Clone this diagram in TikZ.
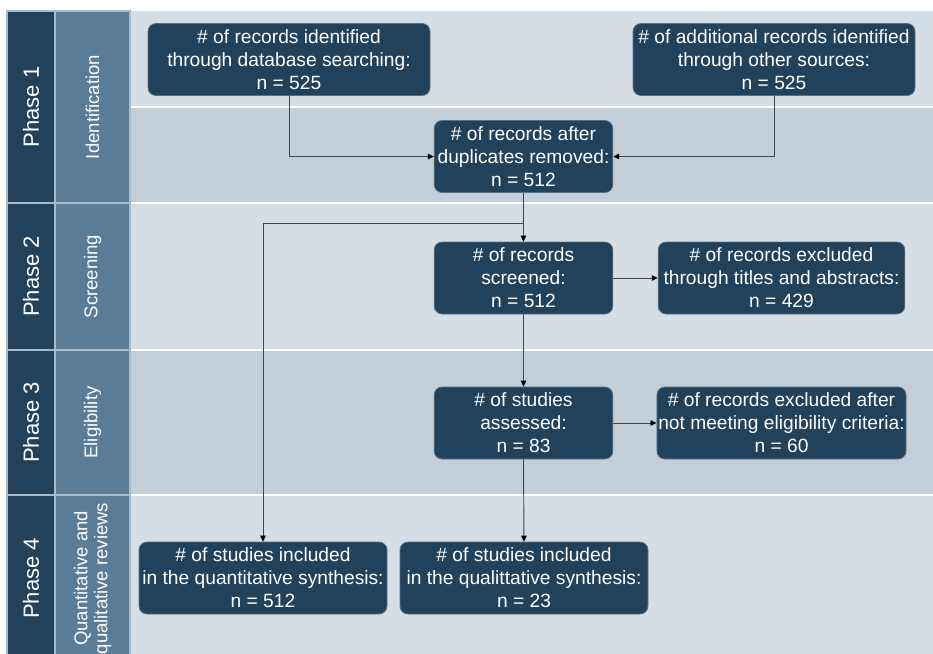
\documentclass[tikz,border=0pt]{standalone}
\usepackage{fontspec}
\setmainfont{Liberation Sans}
\usetikzlibrary{arrows.meta, calc, positioning}

\definecolor{navy}{HTML}{22425B}
\definecolor{steel}{HTML}{5B7C96}
\definecolor{bglight}{HTML}{D5DEE5}
\definecolor{bgdark}{HTML}{C2CFD9}
\definecolor{rim}{HTML}{A8BBCB}
\definecolor{wire}{HTML}{444444}

\begin{document}
\begin{tikzpicture}[x=0.75pt, y=-0.75pt,
  recbox/.style={rectangle, rounded corners=6pt, fill=navy, draw=navy!75!white, line width=0.6pt,
    text=white, align=center, inner xsep=1pt, minimum height=54pt,
    font=\fontsize{14.4}{17.2}\selectfont},
  flow/.style={draw=wire, line width=0.7pt, -{Triangle[length=4.5pt, width=4.2pt, color=black]}},
  phasecell/.style={fill=navy, draw=rim, line width=1.1pt},
  stagecell/.style={fill=steel, draw=rim, line width=1.1pt},
  phaselabel/.style={rotate=90, text=white, font=\fontsize{16.5}{19}\selectfont},
  stagelabel/.style={rotate=90, text=white, align=center, font=\fontsize{13.9}{15}\selectfont}]
\useasboundingbox (0,0) rectangle (933,654);

% Background bands
\fill[white] (0,0) rectangle (933,654);
\fill[bglight] (130,11) rectangle (940,107);
\fill[bgdark] (130,107) rectangle (940,203);
\fill[bglight] (130,203) rectangle (940,350);
\fill[bgdark] (130,350) rectangle (940,495);
\fill[bglight] (130,495) rectangle (940,670);
\foreach \y in {107,203,350,495} {
    \draw[white, line width=1.5pt] (130,\y) -- (940,\y);
}

% Phase columns
\foreach \top/\bot/\phase/\stage in {11/203/Phase 1/Identification, 203/350/Phase 2/Screening,
    350/495/Phase 3/Eligibility, 495/662/Phase 4/{Quantitative and\\qualitative reviews}} {
    \draw[phasecell] (7,\top) rectangle (55,\bot);
    \draw[stagecell] (55,\top) rectangle (130,\bot);
    \node[phaselabel] at (31,{(\top+\bot)/2}) {\phase};
    \node[stagelabel] at (92.5,{(\top+\bot)/2}) {\stage};
}

% Boxes
\node[recbox, minimum width=211.5pt] (dbsearch) at (289,59.5) {\# of records identified\\through database searching:\\n = 525};
\node[recbox, minimum width=211.5pt] (othersrc) at (774,59.5) {\# of additional records identified\\through other sources:\\n = 525};
\node[recbox, minimum width=134pt] (dedup) at (523.5,156.5) {\# of records after\\duplicates removed:\\n = 512};
\node[recbox, minimum width=134pt] (screened) at (523.5,278) {\# of records\\screened:\\n = 512};
\node[recbox, minimum width=185pt] (exclscreen) at (781.5,278) {\# of records excluded\\through titles and abstracts:\\n = 429};
\node[recbox, minimum width=134pt] (assessed) at (523.5,423) {\# of studies\\assessed:\\n = 83};
\node[recbox, minimum width=185pt] (excleligib) at (781.5,423) {\# of records excluded after\\not meeting eligibility criteria:\\n = 60};
\node[recbox, minimum width=186pt] (quant) at (263,578) {\# of studies included\\in the quantitative synthesis:\\n = 512};
\node[recbox, minimum width=186pt] (qual) at (524,578) {\# of studies included\\in the qualittative synthesis:\\n = 23};

% Connectors
\coordinate (split) at (dedup.south |- 0,223);
\draw[flow] (dbsearch.south) |- (dedup.west);
\draw[flow] (othersrc.south) |- (dedup.east);
\draw[wire, line width=0.7pt] (dedup.south) -- (split);
\draw[flow] (split) -- (screened.north);
\draw[flow] (split) -| (quant.north);
\draw[flow] (screened.east) -- (exclscreen.west);
\draw[flow] (screened.south) -- (assessed.north);
\draw[flow] (assessed.east) -- (excleligib.west);
\draw[flow] (assessed.south) -- (qual.north);
\end{tikzpicture}
\end{document}
